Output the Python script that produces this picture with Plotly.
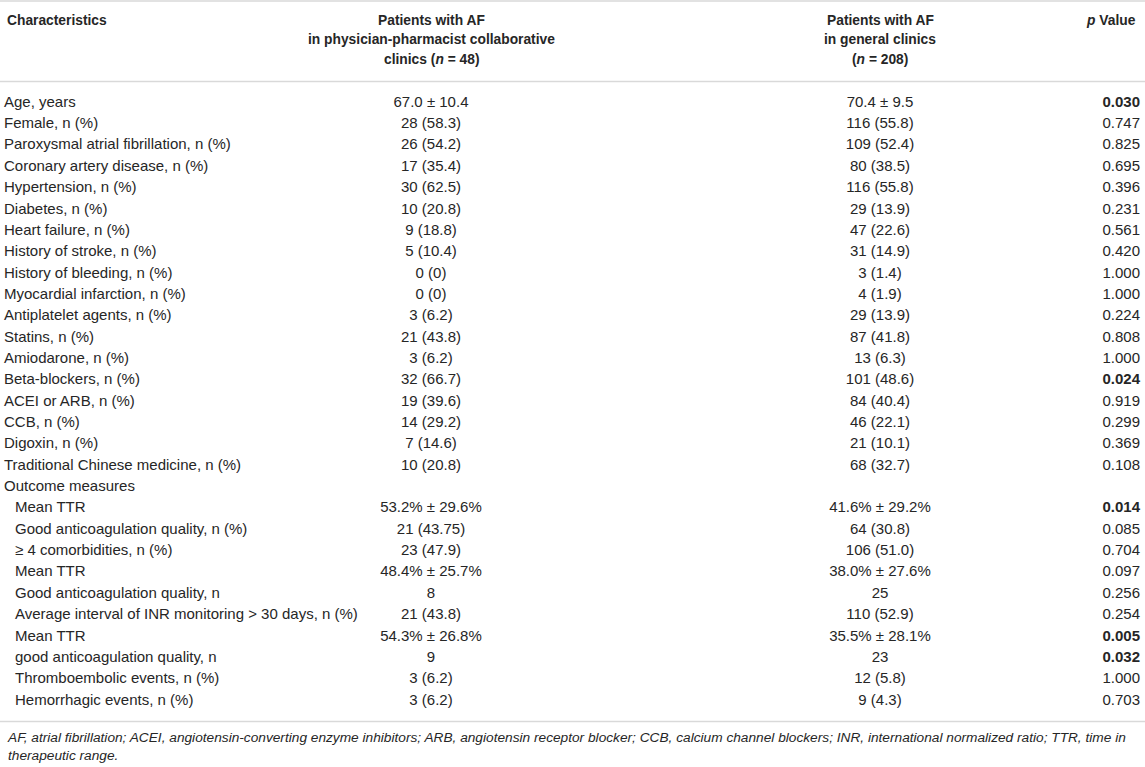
import plotly.graph_objects as go

ancho = 1145
alto = 767

# Datos de la tabla
caracteristicas = [
    "Age, years", "Female, n (%)", "Paroxysmal atrial fibrillation, n (%)",
    "Coronary artery disease, n (%)", "Hypertension, n (%)", "Diabetes, n (%)",
    "Heart failure, n (%)", "History of stroke, n (%)", "History of bleeding, n (%)",
    "Myocardial infarction, n (%)", "Antiplatelet agents, n (%)", "Statins, n (%)",
    "Amiodarone, n (%)", "Beta-blockers, n (%)", "ACEI or ARB, n (%)", "CCB, n (%)",
    "Digoxin, n (%)", "Traditional Chinese medicine, n (%)", "Outcome measures",
    "Mean TTR", "Good anticoagulation quality, n (%)", "\u2265 4 comorbidities, n (%)",
    "Mean TTR", "Good anticoagulation quality, n",
    "Average interval of INR monitoring > 30 days, n (%)", "Mean TTR",
    "good anticoagulation quality, n", "Thromboembolic events, n (%)",
    "Hemorrhagic events, n (%)",
]
sangria = [0] * 19 + [1] * 10

af_colaborativa = [
    "67.0 \u00b1 10.4", "28 (58.3)", "26 (54.2)", "17 (35.4)", "30 (62.5)", "10 (20.8)",
    "9 (18.8)", "5 (10.4)", "0 (0)", "0 (0)", "3 (6.2)", "21 (43.8)", "3 (6.2)",
    "32 (66.7)", "19 (39.6)", "14 (29.2)", "7 (14.6)", "10 (20.8)", "",
    "53.2% \u00b1 29.6%", "21 (43.75)", "23 (47.9)", "48.4% \u00b1 25.7%", "8",
    "21 (43.8)", "54.3% \u00b1 26.8%", "9", "3 (6.2)", "3 (6.2)",
]
af_general = [
    "70.4 \u00b1 9.5", "116 (55.8)", "109 (52.4)", "80 (38.5)", "116 (55.8)", "29 (13.9)",
    "47 (22.6)", "31 (14.9)", "3 (1.4)", "4 (1.9)", "29 (13.9)", "87 (41.8)", "13 (6.3)",
    "101 (48.6)", "84 (40.4)", "46 (22.1)", "21 (10.1)", "68 (32.7)", "",
    "41.6% \u00b1 29.2%", "64 (30.8)", "106 (51.0)", "38.0% \u00b1 27.6%", "25",
    "110 (52.9)", "35.5% \u00b1 28.1%", "23", "12 (5.8)", "9 (4.3)",
]
valores_p = [
    "0.030", "0.747", "0.825", "0.695", "0.396", "0.231", "0.561", "0.420", "1.000",
    "1.000", "0.224", "0.808", "1.000", "0.024", "0.919", "0.299", "0.369", "0.108", "",
    "0.014", "0.085", "0.704", "0.097", "0.256", "0.254", "0.005", "0.032", "1.000",
    "0.703",
]

encabezados = [
    ["<b>Characteristics</b>"],
    ["<b>Patients with AF</b>", "<b>in physician-pharmacist collaborative</b>",
     "<b>clinics (<i>n</i> = 48)</b>"],
    ["<b>Patients with AF</b>", "<b>in general clinics</b>", "<b>(<i>n</i> = 208)</b>"],
    ["<b><i>p</i> Value</b>"],
]

nota = ("<i>AF, atrial fibrillation; ACEI, angiotensin-converting enzyme inhibitors; ARB, "
        "angiotensin receptor blocker; CCB, calcium channel blockers; INR, international "
        "normalized ratio; TTR, time in</i><br><i>therapeutic range.</i>")

FUENTE = "Liberation Sans, Arial, sans-serif"
COLOR_TEXTO = "#262626"
COLOR_LINEA = "#d9d9d9"
TAM = 15
TAM_ENC = 13.8

# posiciones horizontales (px)
X_ETIQUETA = 4
X_SANGRIA = 15
X_COL2 = 431
X_COL3 = 880
X_P = 1140

# filas: centro de la primera fila y paso vertical
FILA0 = 103
PASO = 21.35

filas = list(range(len(caracteristicas)))

fig = go.Figure()

fig.add_trace(go.Scatter(
    x=[X_SANGRIA if s else X_ETIQUETA for s in sangria], y=filas,
    text=caracteristicas, mode="text", textposition="middle right",
    textfont=dict(family=FUENTE, size=TAM, color=COLOR_TEXTO), hoverinfo="skip"))

fig.add_trace(go.Scatter(
    x=[X_COL2] * len(filas), y=filas, text=af_colaborativa, mode="text",
    textposition="middle center",
    textfont=dict(family=FUENTE, size=TAM, color=COLOR_TEXTO), hoverinfo="skip"))

fig.add_trace(go.Scatter(
    x=[X_COL3] * len(filas), y=filas, text=af_general, mode="text",
    textposition="middle center",
    textfont=dict(family=FUENTE, size=TAM, color=COLOR_TEXTO), hoverinfo="skip"))

# valores p significativos en negrita
texto_p = [f"<b>{v}</b>" if v and float(v) < 0.05 else v for v in valores_p]
fig.add_trace(go.Scatter(
    x=[X_P] * len(filas), y=filas, text=texto_p, mode="text",
    textposition="middle left",
    textfont=dict(family=FUENTE, size=TAM, color=COLOR_TEXTO), hoverinfo="skip"))

# encabezado
y_enc = [20.5, 40, 59.5]
columnas = [(X_ETIQUETA + 1, "left"), (X_COL2, "center"), (X_COL3, "center"), (X_P - 2, "right")]
for (xc, alin), lineas in zip(columnas, encabezados):
    for i, t in enumerate(lineas):
        fig.add_annotation(
            x=xc, xref="x", y=1 - y_enc[i] / alto, yref="paper", text=t,
            showarrow=False, xanchor=alin, yanchor="middle",
            font=dict(family=FUENTE, size=TAM_ENC, color=COLOR_TEXTO))

# nota al pie
fig.add_annotation(
    x=X_ETIQUETA + 1, xref="x", y=1 - 728 / alto, yref="paper", text=nota,
    showarrow=False, xanchor="left", yanchor="top", align="left",
    font=dict(family=FUENTE, size=13.7, color=COLOR_TEXTO))

# lineas horizontales
for py in [1, 81.5, 721.5]:
    fig.add_shape(type="line", xref="paper", yref="paper", x0=0, x1=1,
                  y0=1 - py / alto, y1=1 - py / alto,
                  line=dict(color=COLOR_LINEA, width=1.5))

fig.update_layout(
    autosize=False,
    width=ancho,
    height=alto,
    margin=dict(l=0, r=0, t=0, b=0, pad=0),
    paper_bgcolor="white",
    plot_bgcolor="white",
    showlegend=False,
    hovermode=False,
    xaxis=dict(range=[0, ancho], visible=False, fixedrange=True),
    yaxis=dict(range=[(alto - FILA0) / PASO, -FILA0 / PASO], visible=False,
               fixedrange=True),
)

fig.write_html("out.html", config={"displayModeBar": False},
               post_script="document.body.style.margin='0';")
